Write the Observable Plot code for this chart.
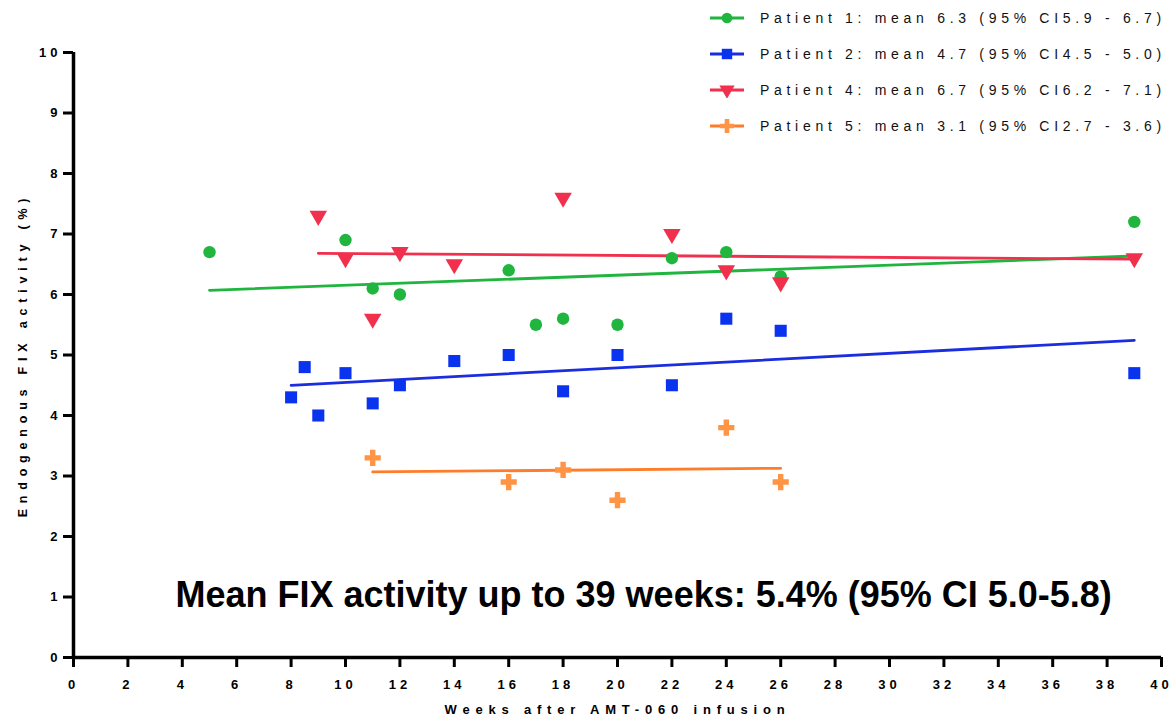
<!DOCTYPE html>
<html>
<head>
<meta charset="utf-8">
<script src="https://cdn.jsdelivr.net/npm/d3@7"></script>
<script src="https://cdn.jsdelivr.net/npm/@observablehq/plot@0.6"></script>
<style>
  body { margin: 0; background: #fff; }
  #wrap { position: relative; width: 1175px; height: 721px; font-family: "Liberation Sans", Arial, sans-serif; }
  #legend { position: absolute; left: 708px; top: 0px; }
  .row { display: flex; align-items: center; height: 36px; }
  .row svg { margin-right: 14px; }
  .row span { font-size: 14px; letter-spacing: 4.7px; color: #111; white-space: pre; }
</style>
</head>
<body>
<div id="wrap"><div id="legend"></div></div>
<script>
// ---- data ----
const p1Weeks = [5, 10, 11, 12, 16, 17, 18, 20, 22, 24, 26, 39];
const p1Fix   = [6.7, 6.9, 6.1, 6.0, 6.4, 5.5, 5.6, 5.5, 6.6, 6.7, 6.3, 7.2];
const p2Weeks = [8, 8.5, 9, 10, 11, 12, 14, 16, 18, 20, 22, 24, 26, 39];
const p2Fix   = [4.3, 4.8, 4.0, 4.7, 4.2, 4.5, 4.9, 5.0, 4.4, 5.0, 4.5, 5.6, 5.4, 4.7];
const p4Weeks = [9, 10, 11, 12, 14, 18, 22, 24, 26, 39];
const p4Fix   = [7.3, 6.6, 5.6, 6.7, 6.5, 7.6, 7.0, 6.4, 6.2, 6.6];
const p5Weeks = [11, 16, 18, 20, 24, 26];
const p5Fix   = [3.3, 2.9, 3.1, 2.6, 3.8, 2.9];

const seriesNames = [
  "Patient 1: mean 6.3 (95% CI5.9 - 6.7)",
  "Patient 2: mean 4.7 (95% CI4.5 - 5.0)",
  "Patient 4: mean 6.7 (95% CI6.2 - 7.1)",
  "Patient 5: mean 3.1 (95% CI2.7 - 3.6)"
];
const xTicks = d3.range(0, 41, 2);
const yTicks = d3.range(0, 11, 1);
const xLabel = "Weeks after AMT-060 infusion";
const yLabel = "Endogenous FIX activity (%)";
const annotation = "Mean FIX activity up to 39 weeks: 5.4% (95% CI 5.0-5.8)";

// ---- styles ----
const dotColors  = ["#1fb53e", "#0a33f0", "#f0304c", "#ff9445"];
const lineColors = ["#1fb53e", "#1a2ee0", "#f0304c", "#ff7d2a"];
const symbols = ["circle", "square", "triangle", "cross"];
const rotations = [0, 0, 180, 0];
const radii = [6.2, 6.8, 6.5, 6.8];

const sets = [[p1Weeks, p1Fix], [p2Weeks, p2Fix], [p4Weeks, p4Fix], [p5Weeks, p5Fix]];
const tables = sets.map(([w, f]) => w.map((x, i) => ({x, y: f[i]})));

const marks = [
  Plot.axisX({ticks: xTicks, tickSize: 10, strokeWidth: 3, tickPadding: 12, label: null,
    fontWeight: "bold", fontSize: 13}),
  Plot.axisY({ticks: yTicks, tickSize: 10, strokeWidth: 3, tickPadding: 2, label: null,
    fontWeight: "bold", fontSize: 13}),
  Plot.ruleY([0], {strokeWidth: 3.5, stroke: "#000"}),
  Plot.ruleX([0], {strokeWidth: 3.5, stroke: "#000"}),
];
tables.forEach((t, i) => {
  marks.push(Plot.linearRegressionY(t, {x: "x", y: "y", stroke: lineColors[i], strokeWidth: 2.8, ci: 0}));
});
tables.forEach((t, i) => {
  marks.push(Plot.dot(t, {x: "x", y: "y", symbol: () => symbols[i], fill: dotColors[i],
    stroke: "none", r: radii[i], rotate: rotations[i]}));
});
marks.push(
  Plot.text([xLabel], {frameAnchor: "bottom", dy: 56, fontWeight: "bold", fontSize: 13,
    text: d => d}),
  Plot.text([yLabel], {frameAnchor: "left", textAnchor: "middle", dx: -51, rotate: -90,
    fontWeight: "bold", fontSize: 12.5, text: d => d}),
  Plot.text([annotation], {frameAnchor: "bottom-left", dx: 102, dy: -51, textAnchor: "start",
    fontWeight: "bold", fontSize: 36, text: d => d, fill: "#000"})
);

const chart = Plot.plot({
  width: 1175, height: 721,
  marginLeft: 73, marginRight: 14, marginTop: 52, marginBottom: 64,
  x: {domain: [0, 40]},
  y: {domain: [0, 10]},
  symbol: {type: "identity"},
  style: {fontFamily: "Liberation Sans, Arial, sans-serif", letterSpacing: "4px", color: "#000", background: "#fff"},
  marks
});
document.getElementById("wrap").prepend(chart);
chart.querySelectorAll("text").forEach(t => {
  if (t.textContent === annotation) t.style.letterSpacing = "0px";
  if (t.textContent === xLabel) t.style.letterSpacing = "5.8px";
  if (t.textContent === yLabel) t.style.letterSpacing = "5.8px";
});

// ---- legend ----
const legend = document.getElementById("legend");
const symPaths = symbols.map((s, i) => {
  const sym = {circle: d3.symbolCircle, square: d3.symbolSquare, triangle: d3.symbolTriangle, cross: d3.symbolCross}[s];
  return d3.symbol(sym, Math.PI * radii[i] * radii[i] * 0.75)();
});
seriesNames.forEach((name, i) => {
  const row = document.createElement("div");
  row.className = "row";
  row.innerHTML = `<svg width="38" height="16"><line x1="2" x2="36" y1="8" y2="8" stroke="${lineColors[i]}" stroke-width="3"/>` +
    `<path d="${symPaths[i]}" transform="translate(19,8) rotate(${rotations[i]})" fill="${dotColors[i]}"/></svg>` +
    `<span>${name}</span>`;
  legend.appendChild(row);
});
</script>
</body>
</html>
